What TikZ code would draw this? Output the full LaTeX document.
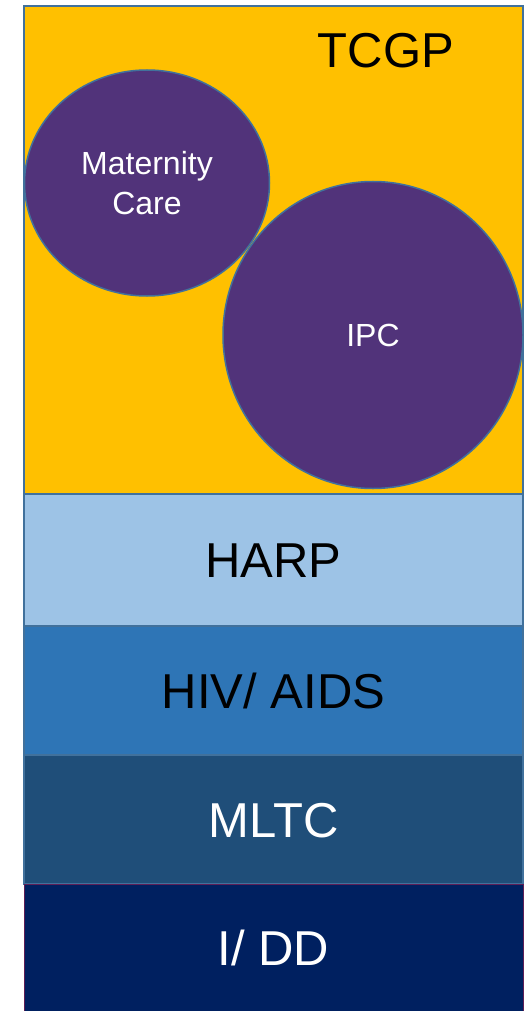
\documentclass[tikz,border=0pt]{standalone}
\usepackage{fontspec}
\setmainfont{Liberation Sans}
\usepackage{tikz}
\usetikzlibrary{positioning,shapes.geometric}

\definecolor{gold}{RGB}{255,192,0}
\definecolor{plum}{RGB}{81,51,122}
\definecolor{edgeblue}{RGB}{65,113,156}
\definecolor{harpblue}{RGB}{157,195,230}
\definecolor{hivblue}{RGB}{46,117,182}
\definecolor{mltcblue}{RGB}{31,78,121}
\definecolor{iddnavy}{RGB}{0,32,96}
\definecolor{iddedge}{RGB}{95,30,85}

\tikzset{
  band/.style={draw=edgeblue, line width=1.5pt, rectangle, minimum width=499pt, inner sep=0pt, outer sep=0pt},
  bigtext/.style={font=\fontsize{49}{59}\selectfont, text height=35pt, text depth=0pt},
  blob/.style={draw=edgeblue, line width=1.5pt, fill=plum, ellipse, inner sep=0pt, text=white,
    font=\fontsize{32}{40}\selectfont, align=center}
}

\begin{document}
\begin{tikzpicture}[x=1pt, y=-1pt]
  \useasboundingbox (0,0) rectangle (531,1011);

  % Top block
  \node[band, fill=gold, minimum height=488pt] (tcgp) at (273.5,250) {};
  \node[bigtext] (tcgptext) at (386,50) {TCGP};

  % Circles
  \node[blob, minimum width=245pt, minimum height=226pt, text height=63pt, text depth=0pt] (maternity) at (147,183) {Maternity\\Care};
  \node[blob, minimum width=300pt, minimum height=307pt, text height=23pt, text depth=0pt] (ipc) at (373,335) {IPC};

  % Bands
  \node[band, bigtext, fill=harpblue, minimum height=132pt, below=0pt of tcgp] (harp) {HARP};
  \node[band, bigtext, fill=hivblue, minimum height=129pt, below=0pt of harp] (hiv) {HIV/ AIDS};
  \node[band, bigtext, fill=mltcblue, text=white, minimum height=129pt, below=0pt of hiv] (mltc) {MLTC};
  \node[band, bigtext, draw=iddedge, line width=1pt, fill=iddnavy, text=white, minimum height=127pt, below=0pt of mltc] (idd) {I/ DD};
\end{tikzpicture}
\end{document}
